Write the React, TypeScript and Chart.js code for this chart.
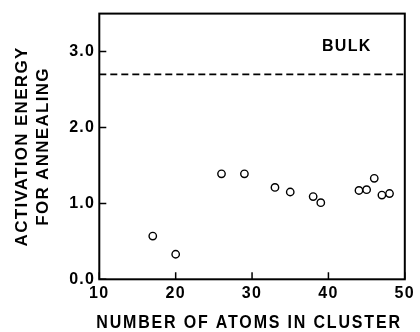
import { useEffect, useRef } from 'react';
import { Chart, registerables } from 'chart.js';

Chart.register(...registerables);

// ---- data ----
const clusterSizes = [17, 20, 26, 29, 33, 35, 38, 39, 44, 45, 46, 47, 48];
const activationEnergies = [0.57, 0.33, 1.39, 1.39, 1.21, 1.15, 1.09, 1.01, 1.17, 1.18, 1.33, 1.11, 1.13];
const bulkEnergy = 2.7;
const bulkLabel = 'BULK';
const xTickValues = [10, 20, 30, 40, 50];
const yTickValues = [0, 1, 2, 3];
const xTitle = 'NUMBER OF ATOMS IN CLUSTER';
const yTitle = ['ACTIVATION ENERGY', 'FOR ANNEALING'];

const FONT = '"Liberation Sans", Arial, Helvetica, sans-serif';
const INK = '#000';
const SPACING = '1.3px';

const decorPlugin = {
  id: 'decor',
  beforeLayout(chart: any) {
    chart.ctx.letterSpacing = SPACING;
  },
  afterLayout(chart: any) {
    const s = chart.scales.x;
    if (s && !s.__patched) {
      const orig = s.drawTitle;
      s.drawTitle = function (...args: any[]) {
        const c = this.ctx;
        c.save();
        c.letterSpacing = '2px';
        c.translate(-3, 0);
        orig.apply(this, args);
        c.restore();
      };
      s.__patched = true;
    }
  },
  beforeDraw(chart: any) {
    chart.ctx.letterSpacing = SPACING;
  },
  beforeDatasetsDraw(chart: any) {
    const { ctx, chartArea: a, scales } = chart;
    ctx.save();
    ctx.strokeStyle = INK;
    // dashed bulk line
    const yb = scales.y.getPixelForValue(bulkEnergy);
    ctx.lineWidth = 1.7;
    ctx.setLineDash([7, 4]);
    ctx.beginPath();
    ctx.moveTo(a.left, yb);
    ctx.lineTo(a.right, yb);
    ctx.stroke();
    ctx.setLineDash([]);
    // frame
    ctx.lineWidth = 2;
    ctx.strokeRect(a.left, a.top, a.right - a.left, a.bottom - a.top);
    // inward ticks
    ctx.lineWidth = 1.5;
    ctx.beginPath();
    for (const t of scales.x.ticks) {
      const x = scales.x.getPixelForValue(t.value);
      ctx.moveTo(x, a.bottom);
      ctx.lineTo(x, a.bottom - 7);
    }
    for (const t of scales.y.ticks) {
      const y = scales.y.getPixelForValue(t.value);
      ctx.moveTo(a.left, y);
      ctx.lineTo(a.left + 7, y);
    }
    ctx.stroke();
    // label
    ctx.fillStyle = INK;
    ctx.font = `bold 16px ${FONT}`;
    ctx.letterSpacing = SPACING;
    ctx.textAlign = 'center';
    ctx.textBaseline = 'middle';
    ctx.fillText(bulkLabel, scales.x.getPixelForValue(42.4), scales.y.getPixelForValue(3.06));
    ctx.restore();
  },
};

export default function App() {
  const ref = useRef<HTMLCanvasElement | null>(null);
  useEffect(() => {
    document.body.style.margin = '0';
    const canvas = ref.current!;
    const chart = new Chart(canvas, {
      type: 'scatter',
      data: {
        datasets: [
          {
            data: clusterSizes.map((x, i) => ({ x, y: activationEnergies[i] })),
            pointStyle: 'circle',
            pointRadius: 3.7,
            pointBorderWidth: 1.4,
            pointBackgroundColor: '#fff',
            pointBorderColor: INK,
            showLine: false,
          },
        ],
      },
      options: {
        animation: false,
        responsive: false,
        maintainAspectRatio: false,
        devicePixelRatio: 1,
        layout: { padding: { left: 0, right: 12.7, top: 11.8, bottom: 0 } },
        plugins: { legend: { display: false }, tooltip: { enabled: false } },
        scales: {
          x: {
            type: 'linear',
            min: 10,
            max: 50,
            afterBuildTicks: (s: any) => {
              s.ticks = xTickValues.map((v) => ({ value: v }));
            },
            afterFit: (s: any) => {
              s.height = 52.7;
            },
            grid: { display: false, drawTicks: false },
            border: { display: false },
            ticks: {
              color: INK,
              font: { family: FONT, size: 16, weight: 'bold' },
              padding: 5,
              maxRotation: 0,
              callback: (v: any) => String(v),
            },
            title: {
              display: true,
              text: xTitle,
              color: INK,
              font: { family: FONT, size: 17.5, lineHeight: 1, weight: 'bold' },
              padding: { top: 0, bottom: 0 },
            },
          },
          y: {
            type: 'linear',
            min: 0,
            max: 3.5,
            afterBuildTicks: (s: any) => {
              s.ticks = yTickValues.map((v) => ({ value: v }));
            },
            afterFit: (s: any) => {
              s.width = 99.3;
            },
            grid: { display: false, drawTicks: false },
            border: { display: false },
            ticks: {
              color: INK,
              font: { family: FONT, size: 16, weight: 'bold' },
              padding: 4,
              callback: (v: any) => Number(v).toFixed(1),
            },
            title: {
              display: true,
              text: yTitle,
              color: INK,
              font: { family: FONT, size: 17, lineHeight: 1.24, weight: 'bold' },
              padding: { top: 12, bottom: 0 },
            },
          },
        },
      },
      plugins: [decorPlugin],
    });
    return () => chart.destroy();
  }, []);
  return (
    <div style={{ position: 'absolute', left: 0, top: 0, width: 420, height: 332, background: '#fff' }}>
      <canvas ref={ref} width={420} height={332} style={{ width: 420, height: 332, display: 'block' }} />
    </div>
  );
}
